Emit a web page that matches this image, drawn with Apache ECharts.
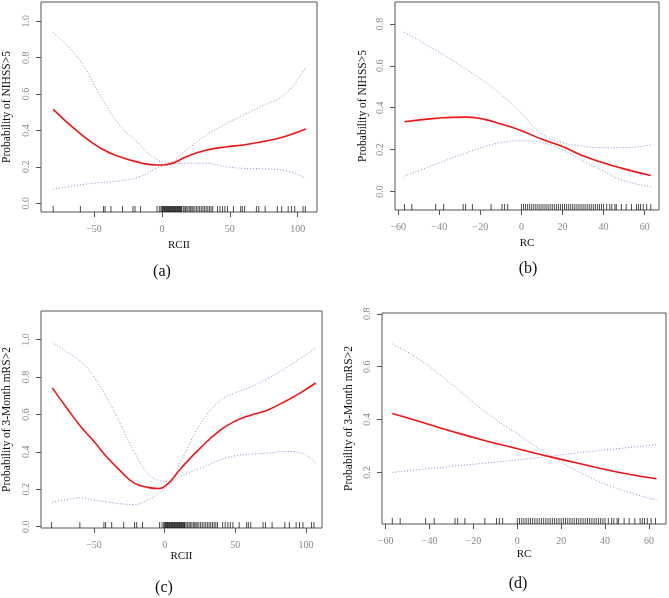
<!DOCTYPE html>
<html>
<head>
<meta charset="utf-8">
<title>Probability curves</title>
<script src="https://cdn.jsdelivr.net/npm/echarts@6/dist/echarts.min.js"></script>
<style>
    html, body { margin: 0; padding: 0; background: #fff; }
    #chart { width: 669px; height: 598px; }
</style>
</head>
<body>
<div id="chart"></div>
<script>
// (a) RCII -> Probability of NIHSS>5
var xA = [-80, -61, -45, -31, -16, -4, 4, 18, 31, 48, 60, 75, 90, 106];
var fitA = [0.516, 0.388, 0.302, 0.256, 0.223, 0.21, 0.213, 0.256, 0.289, 0.311, 0.32, 0.34, 0.366, 0.408];
var upA = [0.938, 0.791, 0.586, 0.43, 0.32, 0.242, 0.225, 0.293, 0.366, 0.44, 0.485, 0.54, 0.595, 0.75];
var loA = [0.077, 0.1, 0.114, 0.123, 0.147, 0.192, 0.208, 0.22, 0.22, 0.2, 0.192, 0.189, 0.18, 0.137];

// (b) RC -> Probability of NIHSS>5
var xB = [-57, -42, -27.5, -18, -10, 0, 10, 20, 29, 39, 49, 63];
var fitB = [0.333, 0.349, 0.355, 0.344, 0.322, 0.29, 0.249, 0.214, 0.174, 0.139, 0.11, 0.076];
var upB = [0.76, 0.676, 0.588, 0.524, 0.464, 0.373, 0.274, 0.233, 0.218, 0.209, 0.209, 0.222];
var loB = [0.073, 0.129, 0.182, 0.214, 0.233, 0.242, 0.233, 0.198, 0.15, 0.102, 0.054, 0.022];

// (c) RCII -> Probability of 3-Month mRS>2
var xC = [-79.5, -69, -59.4, -50, -40.6, -31, -21.7, -12.3, -5.2, 2, 11.3, 25.5, 39.6, 49, 60.8, 72.6, 86.8, 96, 106.8];
var fitC = [0.742, 0.632, 0.535, 0.455, 0.37, 0.296, 0.234, 0.211, 0.204, 0.228, 0.31, 0.423, 0.517, 0.561, 0.596, 0.623, 0.676, 0.715, 0.768];
var upC = [0.986, 0.933, 0.883, 0.8, 0.685, 0.543, 0.402, 0.287, 0.251, 0.242, 0.349, 0.552, 0.676, 0.712, 0.747, 0.791, 0.853, 0.9, 0.954];
var loC = [0.131, 0.145, 0.154, 0.142, 0.133, 0.122, 0.119, 0.142, 0.172, 0.216, 0.269, 0.313, 0.358, 0.377, 0.388, 0.393, 0.402, 0.395, 0.34];

// (d) RC -> Probability of 3-Month mRS>2
var xD = [-57, -45, -30, -15, 0.5, 15.6, 30.8, 46, 63.5];
var fitD = [0.423, 0.394, 0.356, 0.321, 0.289, 0.258, 0.229, 0.201, 0.176];
var upD = [0.686, 0.629, 0.534, 0.432, 0.343, 0.261, 0.191, 0.138, 0.096];
var loD = [0.2, 0.211, 0.223, 0.235, 0.248, 0.262, 0.277, 0.29, 0.305];

// rug (observed values along the x axis)
var rugRCII = [-80, -60, -43, -41.8, -37.5, -29, -21.3, -19.8, -15.7, -3.6, -1.9, -0.7,
    0, 0.5, 1, 1.5, 2, 2.5, 3, 3.5, 4, 4.5, 5, 5.5, 6, 6.5, 7, 7.5, 8, 8.5, 9, 9.5, 10, 10.5, 11, 11.5, 12, 12.5, 13, 13.5, 14,
    14.5, 15.7, 16.4, 17.4, 18.4, 19.3, 20.5, 21.3, 22.2, 23, 24.2, 25.4, 26.6, 27.8, 29, 30.2, 31.4, 32.6, 33.8, 35, 36.2, 37.4,
    41, 42.8, 44.7, 46.4, 48.3, 52.7, 58, 59.2, 60.9, 69.6, 71.3, 76, 85, 88.2, 93, 95.4, 97.8, 103.9, 105.6];
var rugRC = [-57, -53.4, -41.8, -37.9, -28.4, -27.2, -23.9, -14.8, -9.5, -8.2, -6.7,
    0, 1, 2, 3, 4, 5, 6, 7, 8, 9, 10, 11, 12, 13, 14, 15, 16, 17, 18, 19, 20,
    21, 22, 23, 24, 25, 26, 27, 28, 29, 30, 31, 32, 33, 34, 35, 36, 37, 38, 39, 40,
    41.5, 43, 44, 45.5, 46.2, 48.7, 51, 53.6, 56, 57, 58, 59.3, 61, 63];

// tick labels
var xTicksRCII = [-50, 0, 50, 100];
var xTicksRC = [-60, -40, -20, 0, 20, 40, 60];
var yTicksA = [0, 0.2, 0.4, 0.6, 0.8, 1.0];
var yTicksB = [0, 0.2, 0.4, 0.6, 0.8];
var yTicksC = [0, 0.2, 0.4, 0.6, 0.8, 1.0];
var yTicksD = [0.2, 0.4, 0.6, 0.8];

var serif = 'Liberation Serif';
var boxColor = '#555';
var labelColor = '#888';

function pairs(xs, ys) {
    var out = [];
    for (var i = 0; i < xs.length; i++) {
        out.push([xs[i], ys[i]]);
    }
    return out;
}

function rugData(xs, y) {
    var out = [];
    for (var i = 0; i < xs.length; i++) {
        out.push([xs[i], y]);
    }
    return out;
}

function minusFmt(v) {
    return v < 0 ? '\u2212' + Math.abs(v) : String(v);
}

var panels = [
    {grid: {left: 41, top: 2, width: 276, height: 210}, xMin: -89, xMax: 114.2, yMin: -0.048, yMax: 1.106,
        xTicks: xTicksRCII, yTicks: yTicksA, xName: 'RCII', yName: 'Probability of NIHSS>5', xGap: 28, yGap: 28,
        x: xA, fit: fitA, up: upA, lo: loA, rug: rugRCII},
    {grid: {left: 395, top: 2, width: 264, height: 208}, xMin: -61.6, xMax: 67, yMin: -0.089, yMax: 0.905,
        xTicks: xTicksRC, yTicks: yTicksB, xName: 'RC', yName: 'Probability of NIHSS>5', xGap: 28, yGap: 26,
        x: xB, fit: fitB, up: upB, lo: loB, rug: rugRC},
    {grid: {left: 41, top: 311, width: 281, height: 217}, xMin: -87.5, xMax: 111.3, yMin: -0.007, yMax: 1.153,
        xTicks: xTicksRCII, yTicks: yTicksC, xName: 'RCII', yName: 'Probability of 3-Month mRS>2', xGap: 22, yGap: 28,
        x: xC, fit: fitC, up: upC, lo: loC, rug: rugRCII},
    {grid: {left: 382, top: 313, width: 284, height: 211}, xMin: -61.7, xMax: 67.8, yMin: 0.005, yMax: 0.803,
        xTicks: xTicksRC, yTicks: yTicksD, xName: 'RC', yName: 'Probability of 3-Month mRS>2', xGap: 25, yGap: 27,
        x: xD, fit: fitD, up: upD, lo: loD, rug: rugRC}
];

var grids = [], xAxes = [], yAxes = [], series = [];

panels.forEach(function (p, i) {
    grids.push({
        left: p.grid.left, top: p.grid.top, width: p.grid.width, height: p.grid.height,
        show: true, borderColor: boxColor, borderWidth: 1, backgroundColor: 'transparent'
    });
    xAxes.push({
        type: 'value', gridIndex: i, min: p.xMin, max: p.xMax,
        name: p.xName, nameLocation: 'middle', nameGap: p.xGap,
        nameTextStyle: {fontFamily: serif, fontSize: 11, color: '#111'},
        axisLine: {show: false, onZero: false},
        splitLine: {show: false},
        axisTick: {customValues: p.xTicks, length: 5, lineStyle: {color: boxColor}},
        axisLabel: {customValues: p.xTicks, margin: 12, color: labelColor, fontSize: 10, fontFamily: serif, formatter: minusFmt}
    });
    yAxes.push({
        type: 'value', gridIndex: i, min: p.yMin, max: p.yMax,
        name: p.yName, nameLocation: 'middle', nameGap: p.yGap, nameRotate: 90,
        nameTextStyle: {fontFamily: serif, fontSize: 11.5, color: '#111'},
        axisLine: {show: false, onZero: false},
        splitLine: {show: false},
        axisTick: {customValues: p.yTicks, length: 5, lineStyle: {color: boxColor}},
        axisLabel: {customValues: p.yTicks, margin: 10, rotate: 90, color: labelColor, fontSize: 10, fontFamily: serif,
            formatter: function (v) { return v.toFixed(1); }}
    });
    series.push({
        type: 'line', xAxisIndex: i, yAxisIndex: i, data: pairs(p.x, p.up),
        smooth: true, showSymbol: false, silent: true,
        lineStyle: {color: '#8c8cd4', width: 1, type: [1, 2]}
    });
    series.push({
        type: 'line', xAxisIndex: i, yAxisIndex: i, data: pairs(p.x, p.lo),
        smooth: true, showSymbol: false, silent: true,
        lineStyle: {color: '#8c8cd4', width: 1, type: [1, 2]}
    });
    series.push({
        type: 'line', xAxisIndex: i, yAxisIndex: i, data: pairs(p.x, p.fit),
        smooth: true, showSymbol: false, silent: true,
        lineStyle: {color: '#f01515', width: 1.6}
    });
    // rug ticks sitting on the bottom of the box
    series.push({
        type: 'scatter', xAxisIndex: i, yAxisIndex: i, data: rugData(p.rug, p.yMin),
        symbol: 'rect', symbolSize: [1, 6], symbolOffset: [0, -3], clip: false, silent: true,
        itemStyle: {color: '#000', opacity: 0.7}
    });
});

var chart = echarts.init(document.getElementById('chart'));
chart.setOption({
    animation: false,
    backgroundColor: '#fff',
    grid: grids,
    xAxis: xAxes,
    yAxis: yAxes,
    series: series,
    graphic: [
        {type: 'text', x: 162, y: 272, style: {text: '(a)', font: '16px "Liberation Serif"', fill: '#111', textAlign: 'center', textVerticalAlign: 'middle'}},
        {type: 'text', x: 528, y: 269, style: {text: '(b)', font: '16px "Liberation Serif"', fill: '#111', textAlign: 'center', textVerticalAlign: 'middle'}},
        {type: 'text', x: 164, y: 588, style: {text: '(c)', font: '16px "Liberation Serif"', fill: '#111', textAlign: 'center', textVerticalAlign: 'middle'}},
        {type: 'text', x: 518, y: 584, style: {text: '(d)', font: '16px "Liberation Serif"', fill: '#111', textAlign: 'center', textVerticalAlign: 'middle'}}
    ]
});
</script>
</body>
</html>
